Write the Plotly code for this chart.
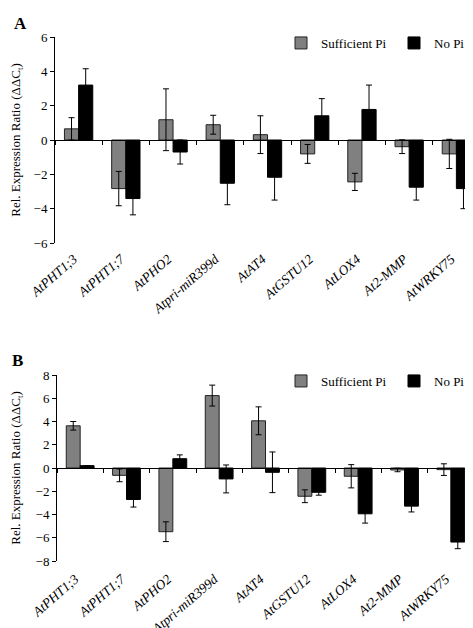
import plotly.graph_objects as go

categories = ["AtPHT1;3", "AtPHT1;7", "AtPHO2", "Atpri-miR399d", "AtAT4",
              "AtGSTU12", "AtLOX4", "At2-MMP", "AtWRKY75"]
tick_labels = ["<i>" + c + "</i>" for c in categories]

# Panel A
A_suff = [0.65, -2.83, 1.18, 0.89, 0.31, -0.81, -2.44, -0.39, -0.81]
A_suff_err = [0.65, 1.0, 1.8, 0.55, 1.1, 0.55, 0.5, 0.4, 0.85]
A_nopi = [3.2, -3.41, -0.7, -2.52, -2.17, 1.41, 1.78, -2.75, -2.83]
A_nopi_err = [0.95, 0.95, 0.7, 1.25, 1.33, 1.0, 1.42, 0.75, 1.17]
A_yticks = [-6, -4, -2, 0, 2, 4, 6]

# Panel B
B_suff = [3.63, -0.63, -5.48, 6.23, 4.06, -2.43, -0.71, -0.17, -0.14]
B_suff_err = [0.37, 0.55, 0.85, 0.9, 1.2, 0.55, 1.0, 0.15, 0.5]
B_nopi = [0.2, -2.71, 0.8, -0.94, -0.37, -2.09, -3.94, -3.28, -6.37]
B_nopi_err = [0.0, 0.65, 0.33, 1.2, 1.75, 0.25, 0.8, 0.5, 0.57]
B_yticks = [-8, -6, -4, -2, 0, 2, 4, 6, 8]

FONT = "Liberation Serif"
W, H = 473, 628
GRAY = "#808080"

def px_x(p):
    return p / W

def px_y(p):
    return 1 - p / H

fig = go.Figure()

def add_panel(suff, suff_err, nopi, nopi_err, xa, ya, leg):
    fig.add_trace(go.Bar(
        x=categories, y=suff, name="Sufficient Pi", xaxis=xa, yaxis=ya, legend=leg,
        marker=dict(color=GRAY, line=dict(color="#222", width=1)),
        error_y=dict(type="data", array=suff_err, visible=True, color="black",
                     thickness=1, width=3),
    ))
    fig.add_trace(go.Bar(
        x=categories, y=nopi, name="No Pi", xaxis=xa, yaxis=ya, legend=leg,
        marker=dict(color="black", line=dict(color="black", width=1)),
        error_y=dict(type="data", array=nopi_err, visible=True, color="black",
                     thickness=1, width=3),
    ))

add_panel(A_suff, A_suff_err, A_nopi, A_nopi_err, "x", "y", "legend")
add_panel(B_suff, B_suff_err, B_nopi, B_nopi_err, "x2", "y2", "legend2")

A_dom = [px_y(235), px_y(29)]
B_dom = [px_y(553), px_y(367)]

def xaxis_cfg(x0, x1, ydom, standoff):
    return dict(
        domain=[px_x(x0), px_x(x1)], anchor="free", position=(ydom[0] + ydom[1]) / 2,
        type="category", categoryorder="array", categoryarray=categories,
        tickmode="array", tickvals=categories, ticktext=tick_labels,
        range=[-0.5, 8.5], showline=True, linecolor="black", linewidth=1,
        ticks="outside", ticklen=4, tickcolor="black", tickson="boundaries",
        tickangle=-41, ticklabelstandoff=standoff, ticklabelshift=-5,
        tickfont=dict(family=FONT, size=13.5, color="black"),
        showgrid=False, zeroline=False, fixedrange=True,
    )

def yaxis_cfg(dom, rng, ticks, xanchor):
    return dict(
        domain=dom, anchor=xanchor, range=rng, tickmode="array", tickvals=ticks,
        showline=True, linecolor="black", linewidth=1, ticks="outside", ticklen=4,
        tickcolor="black", showgrid=False, zeroline=False,
        tickfont=dict(family=FONT, size=13, color="black"),
        title=dict(text="Rel. Expression Ratio (ΔΔC<sub>t</sub>)",
                   font=dict(family=FONT, size=13, color="black")),
    )

def legend_cfg(xp, yp):
    return dict(orientation="h", x=px_x(xp), y=px_y(yp), xanchor="left", yanchor="middle",
                bgcolor="rgba(0,0,0,0)", font=dict(family=FONT, size=13, color="black"),
                traceorder="normal", itemwidth=30, entrywidth=68, entrywidthmode="pixels")

fig.update_layout(
    width=W, height=H,
    margin=dict(l=0, r=0, t=0, b=0, autoexpand=False),
    paper_bgcolor="white", plot_bgcolor="white",
    barmode="group", bargap=0.4, bargroupgap=0,
    font=dict(family=FONT, size=13, color="black"),
    xaxis=xaxis_cfg(47, 472, A_dom, 105),
    yaxis=yaxis_cfg(A_dom, [-6, 6], A_yticks, "x"),
    xaxis2=xaxis_cfg(49, 466, B_dom, 97),
    yaxis2=yaxis_cfg(B_dom, [-8, 8], B_yticks, "x2"),
    legend=legend_cfg(273, 35),
    legend2=legend_cfg(273, 373),
    annotations=[
        dict(text="<b>A</b>", x=px_x(4), y=px_y(4), xref="paper", yref="paper",
             xanchor="left", yanchor="top", showarrow=False,
             font=dict(family=FONT, size=17, color="black")),
        dict(text="<b>B</b>", x=px_x(2), y=px_y(341), xref="paper", yref="paper",
             xanchor="left", yanchor="top", showarrow=False,
             font=dict(family=FONT, size=17, color="black")),
    ],
)

fig.write_html("out.html")
